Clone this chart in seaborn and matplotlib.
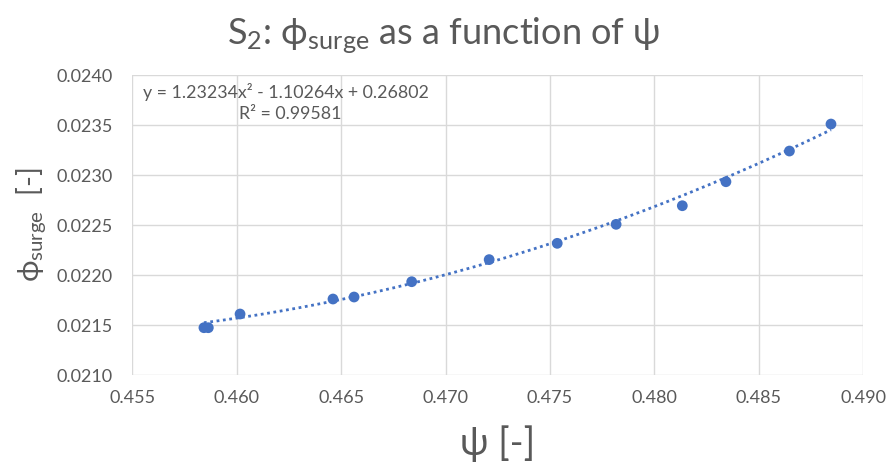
import numpy as np
import pandas as pd
import matplotlib
matplotlib.use("Agg")
import matplotlib.pyplot as plt
import seaborn as sns

# Surge-point measurements for stage S2
psi = [0.45843, 0.45864, 0.46016, 0.46461, 0.46562, 0.46838, 0.47209,
       0.47535, 0.47817, 0.48134, 0.48343, 0.48647, 0.48846]
phi_surge = [0.021473, 0.021473, 0.02161, 0.02176, 0.02178, 0.021933, 0.022154,
             0.022317, 0.022507, 0.022693, 0.022933, 0.02324, 0.02351]

# Quadratic trendline coefficients (a*x^2 + b*x + c) and its R^2
fit_coeffs = [1.23234, -1.10264, 0.26802]
r_squared = 0.99581

x_ticks = [0.455, 0.460, 0.465, 0.470, 0.475, 0.480, 0.485, 0.490]
y_ticks = [0.0210, 0.0215, 0.0220, 0.0225, 0.0230, 0.0235, 0.0240]

sns.set_theme(style="white")
plt.rcParams['font.family'] = ['Lato', 'DejaVu Sans']
plt.rcParams['mathtext.fontset'] = 'custom'
plt.rcParams['mathtext.rm'] = 'Lato'
plt.rcParams['mathtext.it'] = 'Lato'

text_grey = "#595959"
blue = "#4472C4"

df = pd.DataFrame({"psi": psi, "phi": phi_surge})
xs = np.linspace(min(psi), max(psi), 200)
trend = pd.DataFrame({"psi": xs, "phi": np.polyval(fit_coeffs, xs)})

fig = plt.figure(figsize=(8.88, 4.72), dpi=100)
ax = fig.add_axes([0.149, 0.2055, 0.823, 0.6355])

sns.lineplot(data=trend, x="psi", y="phi", ax=ax, color=blue, lw=2.0,
             linestyle=(0, (1, 1.3)), zorder=2)
sns.scatterplot(data=df, x="psi", y="phi", ax=ax, color=blue, s=60,
                edgecolor="none", zorder=3)

ax.set_xlim(x_ticks[0], x_ticks[-1])
ax.set_ylim(y_ticks[0], y_ticks[-1])
ax.set_xticks(x_ticks)
ax.set_yticks(y_ticks)
ax.set_xticklabels([f"{v:.3f}" for v in x_ticks])
ax.set_yticklabels([f"{v:.4f}" for v in y_ticks])
ax.tick_params(axis="x", length=0, labelsize=13, labelcolor=text_grey, pad=11)
ax.tick_params(axis="y", length=0, labelsize=13, labelcolor=text_grey, pad=14)
ax.grid(True, color="#d9d9d9", lw=1.0)
for s in ax.spines.values():
    s.set_visible(False)
ax.set_axisbelow(True)

ax.set_xlabel("ψ [-]", fontsize=27, color=text_grey, labelpad=14)
ax.set_ylabel(r"ϕ$\mathregular{_{surge}}$  [-]", fontsize=21, color=text_grey, labelpad=6)

fig.text(0.5, 0.925, r"S$\mathregular{_2}$: ϕ$\mathregular{_{surge}}$ as a function of ψ",
         ha="center", va="center", fontsize=26, color=text_grey)

a, b, c = fit_coeffs
fig.text(0.161, 0.805, f"y = {a:.5f}x² - {abs(b):.5f}x + {c:.5f}",
         fontsize=12.8, color=text_grey, ha="left", va="center")
fig.text(0.327, 0.758, f"R² = {r_squared:.5f}",
         fontsize=12.8, color=text_grey, ha="center", va="center")

fig.savefig("out.png", dpi=100)
